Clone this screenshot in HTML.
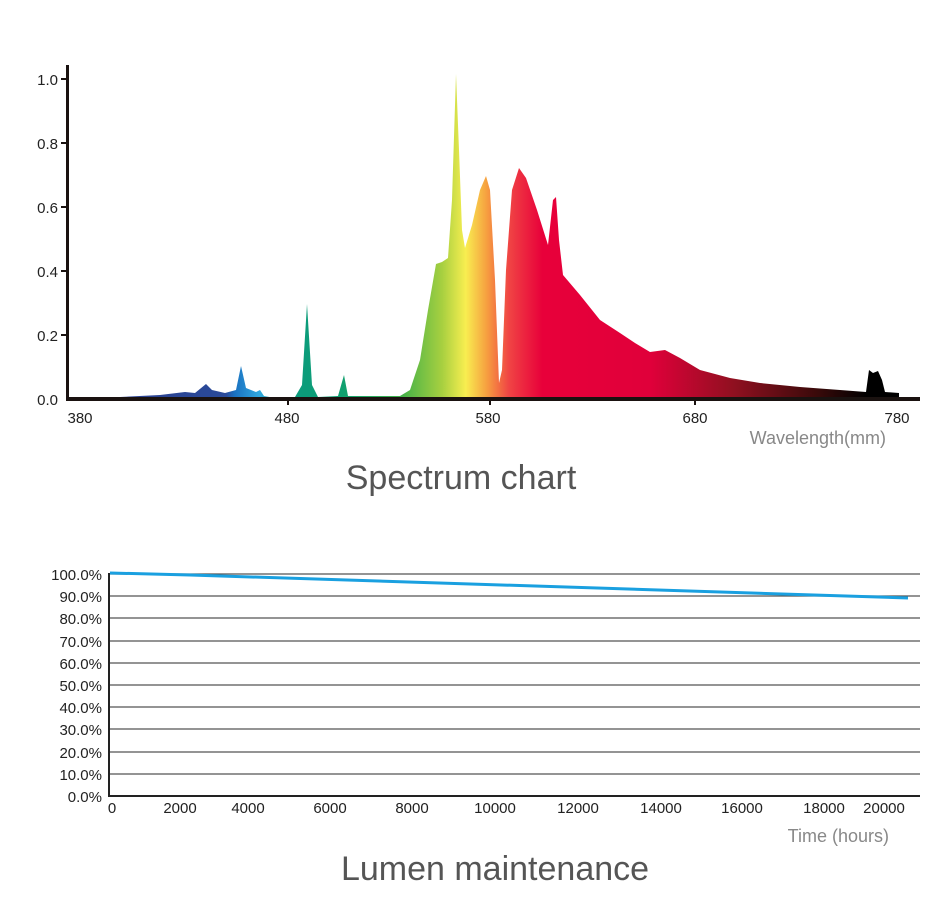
<!DOCTYPE html>
<html><head><meta charset="utf-8"><style>
body{margin:0;background:#fff;width:950px;height:914px;overflow:hidden}
text{font-family:"Liberation Sans",Arial,sans-serif}
</style></head><body>
<svg width="950" height="914" viewBox="0 0 950 914">
<defs>
<linearGradient id="g" gradientUnits="userSpaceOnUse" x1="68" y1="0" x2="900" y2="0">
<stop offset="0" stop-color="#2a3a88"/>
<stop offset="0.19" stop-color="#2a4a9a"/>
<stop offset="0.2" stop-color="#1a70c0"/>
<stop offset="0.23" stop-color="#30a8e0"/>
<stop offset="0.26" stop-color="#0a9a80"/>
<stop offset="0.33" stop-color="#10a070"/>
<stop offset="0.40" stop-color="#40b048"/>
<stop offset="0.45" stop-color="#a8d040"/>
<stop offset="0.478" stop-color="#f8ee50"/>
<stop offset="0.503" stop-color="#f6a040"/>
<stop offset="0.53" stop-color="#f04444"/>
<stop offset="0.57" stop-color="#e8003a"/>
<stop offset="0.70" stop-color="#e0003a"/>
<stop offset="0.80" stop-color="#901020"/>
<stop offset="0.90" stop-color="#3a0a0a"/>
<stop offset="0.96" stop-color="#000"/>
</linearGradient>
</defs>
<path fill="url(#g)" d="M70 398 L120 397 L160 395 L185 392 L195 393 L206 384 L212 390 L225 393 L236 390 L241 366 L246 388 L256 392 L260 390 L264 396 L275 398 L295 397 L302 385 L307 304 L312 385 L318 397 L338 396 L344 375 L348 396 L400 396 L410 390 L420 360 L428 310 L436 264 L442 262 L448 258 L452 200 L456 74 L459 150 L462 230 L465 248 L472 225 L480 190 L486 176 L490 190 L495 280 L499 383 L502 370 L506 270 L512 190 L519 168 L526 178 L537 210 L548 245 L553 200 L556 197 L559 240 L563 275 L580 295 L600 320 L620 333 L635 343 L650 352 L665 350 L680 358 L700 370 L730 378 L760 383 L800 387 L840 390 L866 392 L869 370 L873 373 L878 371 L882 380 L885 392 L899 393 L899 399 L70 399Z"/>
<rect x="66" y="65" width="3" height="336" fill="#1a1210"/>
<rect x="66" y="397" width="854" height="4" fill="#1a1210"/>
<g fill="#1a1210"><rect x="61" y="78" width="6" height="2"/><rect x="61" y="142" width="6" height="2"/><rect x="61" y="206" width="6" height="2"/><rect x="61" y="270" width="6" height="2"/><rect x="61" y="334" width="6" height="2"/><rect x="287" y="400" width="2" height="5"/><rect x="489" y="400" width="2" height="5"/><rect x="694" y="400" width="2" height="5"/></g>
<g font-size="15" fill="#222" text-anchor="end">
<text x="58" y="85">1.0</text><text x="58" y="149">0.8</text><text x="58" y="213">0.6</text><text x="58" y="277">0.4</text><text x="58" y="341">0.2</text><text x="58" y="405">0.0</text></g>
<g font-size="15" fill="#222" text-anchor="middle">
<text x="80" y="423">380</text><text x="287" y="423">480</text><text x="488" y="423">580</text><text x="695" y="423">680</text><text x="897" y="423">780</text></g>
<text x="886" y="444" font-size="18" fill="#888" text-anchor="end">Wavelength(mm)</text>
<text x="461" y="489" font-size="34" fill="#555" text-anchor="middle">Spectrum chart</text>

<g stroke="#555" stroke-width="1.3">
<line x1="110" y1="574" x2="920" y2="574"/><line x1="110" y1="596" x2="920" y2="596"/><line x1="110" y1="618" x2="920" y2="618"/><line x1="110" y1="641" x2="920" y2="641"/><line x1="110" y1="663" x2="920" y2="663"/><line x1="110" y1="685" x2="920" y2="685"/><line x1="110" y1="707" x2="920" y2="707"/><line x1="110" y1="729" x2="920" y2="729"/><line x1="110" y1="752" x2="920" y2="752"/><line x1="110" y1="774" x2="920" y2="774"/>
</g>
<line x1="109" y1="573" x2="109" y2="797" stroke="#222" stroke-width="2"/>
<line x1="108" y1="796" x2="920" y2="796" stroke="#222" stroke-width="2"/>
<polyline points="110,573 190,575 908,598" fill="none" stroke="#1aa0e0" stroke-width="3"/>
<g font-size="15" fill="#222" text-anchor="end">
<text x="102" y="580">100.0%</text><text x="102" y="602">90.0%</text><text x="102" y="624">80.0%</text><text x="102" y="647">70.0%</text><text x="102" y="669">60.0%</text><text x="102" y="691">50.0%</text><text x="102" y="713">40.0%</text><text x="102" y="735">30.0%</text><text x="102" y="758">20.0%</text><text x="102" y="780">10.0%</text><text x="102" y="802">0.0%</text></g>
<g font-size="15" fill="#222" text-anchor="middle">
<text x="112" y="813">0</text><text x="180" y="813">2000</text><text x="248" y="813">4000</text><text x="330" y="813">6000</text><text x="412" y="813">8000</text><text x="495" y="813">10000</text><text x="578" y="813">12000</text><text x="661" y="813">14000</text><text x="742" y="813">16000</text><text x="824" y="813">18000</text><text x="884" y="813">20000</text></g>
<text x="889" y="842" font-size="18" fill="#888" text-anchor="end">Time (hours)</text>
<text x="495" y="880" font-size="34" fill="#555" text-anchor="middle">Lumen maintenance</text>
</svg>
</body></html>
